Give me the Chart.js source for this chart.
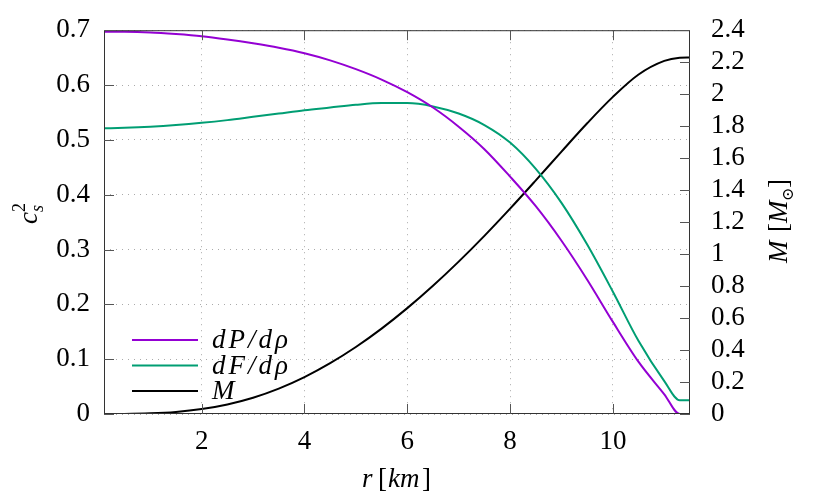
<!DOCTYPE html>
<html>
<head>
<meta charset="utf-8">
<script src="https://cdn.jsdelivr.net/npm/chart.js@4/dist/chart.umd.min.js"></script>
<style>
  html, body { margin: 0; padding: 0; background: #fff; }
  #wrap { width: 830px; height: 498px; }
</style>
</head>
<body>
<div id="wrap"><canvas id="line-chart" width="830" height="498"></canvas></div>
<script>
// radius in km
const radius = [0.1, 0.5, 1, 1.5, 2, 2.5, 3, 3.5, 4, 4.5, 5, 5.5, 6, 6.5, 7, 7.5, 8, 8.5, 9, 9.5, 10, 10.5, 11, 11.3, 11.5];
// dP/drho (left axis)
const dPdRho = [0.697, 0.697, 0.696, 0.693, 0.689, 0.683, 0.676, 0.668, 0.658, 0.645, 0.629, 0.610, 0.587, 0.559, 0.524, 0.483, 0.433, 0.379, 0.316, 0.245, 0.168, 0.095, 0.036, 0.0, 0.0];
// dF/drho (left axis)
const dFdRho = [0.521, 0.522, 0.524, 0.527, 0.531, 0.536, 0.542, 0.548, 0.554, 0.559, 0.564, 0.567, 0.567, 0.561, 0.548, 0.527, 0.495, 0.447, 0.385, 0.309, 0.223, 0.133, 0.060, 0.025, 0.025];
// enclosed mass in solar masses (right axis)
const mass = [0.0, 0.0005, 0.004, 0.013, 0.031, 0.060, 0.102, 0.159, 0.231, 0.318, 0.419, 0.534, 0.662, 0.802, 0.953, 1.114, 1.284, 1.461, 1.641, 1.818, 1.983, 2.123, 2.208, 2.228, 2.23];

const xTicks = [2, 4, 6, 8, 10];
const yTicks = [0, 0.1, 0.2, 0.3, 0.4, 0.5, 0.6, 0.7];
const y2Ticks = [0, 0.2, 0.4, 0.6, 0.8, 1, 1.2, 1.4, 1.6, 1.8, 2, 2.2, 2.4];

const legendItems = [
  { text: 'dP/dρ', color: '#9400d3' },
  { text: 'dF/dρ', color: '#009e73' },
  { text: 'M', color: '#000000' },
];

const serif = '"Liberation Serif", "DejaVu Serif", serif';

const toPoints = (ys) => radius.map((r, i) => ({ x: r, y: ys[i] }));

// inward ticks, frame, axis titles and the in-plot legend
const decorPlugin = {
  id: 'decor',
  afterDraw(chart) {
    const { ctx, chartArea: a, scales } = chart;
    ctx.save();
    ctx.strokeStyle = '#333';
    ctx.lineWidth = 1;
    ctx.strokeRect(a.left + 0.5, a.top + 0.5, a.right - a.left - 1, a.bottom - a.top - 1);

    ctx.strokeStyle = '#555';
    ctx.beginPath();
    xTicks.forEach(v => {
      const px = Math.round(scales.x.getPixelForValue(v)) + 0.5;
      ctx.moveTo(px, a.bottom); ctx.lineTo(px, a.bottom - 10);
      ctx.moveTo(px, a.top); ctx.lineTo(px, a.top + 10);
    });
    yTicks.forEach(v => {
      const py = Math.round(scales.y.getPixelForValue(v)) + 0.5;
      ctx.moveTo(a.left, py); ctx.lineTo(a.left + 10, py);
    });
    y2Ticks.forEach(v => {
      const py = Math.round(scales.y2.getPixelForValue(v)) + 0.5;
      ctx.moveTo(a.right, py); ctx.lineTo(a.right - 10, py);
    });
    ctx.stroke();

    ctx.fillStyle = '#000';
    ctx.textBaseline = 'alphabetic';

    // left title: c_s^2
    ctx.save();
    ctx.translate(37, 224);
    ctx.rotate(-Math.PI / 2);
    ctx.font = 'italic 27px ' + serif;
    ctx.fillText('c', 0, 0);
    ctx.font = 'italic 18px ' + serif;
    ctx.fillText('s', 12, 6);
    ctx.font = '18px ' + serif;
    ctx.fillText('2', 12, -12);
    ctx.restore();

    // right title: M [M_sun]
    ctx.save();
    ctx.translate(787, 263);
    ctx.rotate(-Math.PI / 2);
    ctx.font = 'italic 27px ' + serif;
    ctx.fillText('M', 0, 0);
    ctx.font = '27px ' + serif;
    ctx.fillText('[', 31, 0);
    ctx.font = 'italic 27px ' + serif;
    ctx.fillText('M', 40, 0);
    ctx.font = '16px ' + serif;
    ctx.fillText('⊙', 62, 6);
    ctx.font = '27px ' + serif;
    ctx.fillText(']', 75, 0);
    ctx.restore();

    // bottom title: r [km]
    ctx.font = 'italic 27px ' + serif;
    ctx.fillText('r', 362, 487);
    ctx.font = '27px ' + serif;
    ctx.fillText('[', 378, 487);
    ctx.font = 'italic 27px ' + serif;
    ctx.fillText('km', 388, 487);
    ctx.font = '27px ' + serif;
    ctx.fillText(']', 422, 487);

    // legend
    legendItems.forEach((item, i) => {
      const y = 340 + i * 25.5;
      ctx.strokeStyle = item.color;
      ctx.lineWidth = 2;
      ctx.beginPath();
      ctx.moveTo(132, y); ctx.lineTo(198, y);
      ctx.stroke();
      ctx.font = 'italic 27px ' + serif;
      ctx.letterSpacing = '3px';
      ctx.textBaseline = 'middle';
      ctx.fillText(item.text, 212, y + 1);
    });
    ctx.restore();
  }
};

const dotted = { color: '#aaa', lineWidth: 1 };
const tickFont = { family: serif, size: 27 };

new Chart(document.getElementById('line-chart').getContext('2d'), {
  type: 'line',
  data: {
    datasets: [
      { label: 'dP/dρ', data: toPoints(dPdRho), yAxisID: 'y', borderColor: '#9400d3', borderWidth: 2, pointRadius: 0, cubicInterpolationMode: 'monotone', fill: false },
      { label: 'dF/dρ', data: toPoints(dFdRho), yAxisID: 'y', borderColor: '#009e73', borderWidth: 2, pointRadius: 0, cubicInterpolationMode: 'monotone', fill: false },
      { label: 'M', data: toPoints(mass), yAxisID: 'y2', borderColor: '#000000', borderWidth: 2, pointRadius: 0, cubicInterpolationMode: 'monotone', fill: false },
    ],
  },
  options: {
    responsive: false,
    animation: false,
    layout: { padding: { top: 27, left: 0, right: 0, bottom: 0 } },
    plugins: { legend: { display: false }, tooltip: { enabled: false } },
    scales: {
      x: {
        type: 'linear',
        min: 0.1,
        max: 11.5,
        afterBuildTicks: s => { s.ticks = xTicks.map(v => ({ value: v })); },
        afterFit: s => { s.height = 84; },
        grid: { ...dotted, drawTicks: false },
        border: { display: false, dash: [1, 5] },
        ticks: { color: '#000', padding: 12, font: tickFont, maxRotation: 0, autoSkip: false },
      },
      y: {
        position: 'left',
        min: 0,
        max: 0.7,
        afterBuildTicks: s => { s.ticks = yTicks.map(v => ({ value: v })); },
        afterFit: s => { s.width = 104; },
        grid: { ...dotted, drawTicks: false },
        border: { display: false, dash: [1, 5] },
        ticks: { color: '#000', padding: 14, font: tickFont, autoSkip: false, callback: v => String(+v.toFixed(1)) },
      },
      y2: {
        position: 'right',
        min: 0,
        max: 2.4,
        afterBuildTicks: s => { s.ticks = y2Ticks.map(v => ({ value: v })); },
        afterFit: s => { s.width = 140; },
        grid: { display: false },
        border: { display: false },
        ticks: { color: '#000', padding: 13, font: tickFont, autoSkip: false, callback: v => String(+v.toFixed(1)) },
      },
    },
  },
  plugins: [decorPlugin],
});
</script>
</body>
</html>
